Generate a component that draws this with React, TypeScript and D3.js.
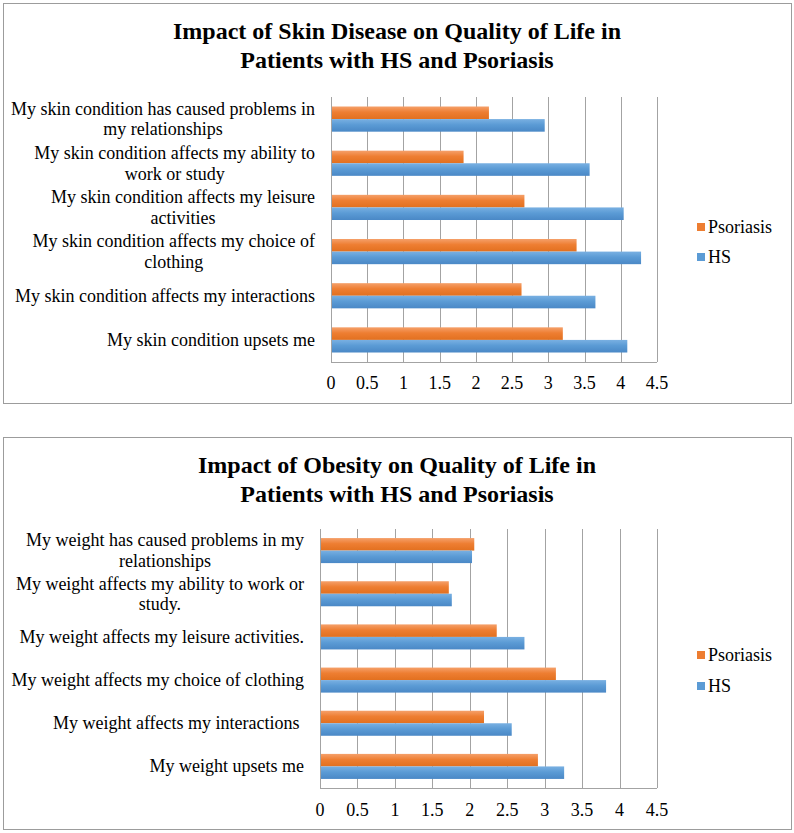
import React, { useEffect, useRef } from "react";
import * as d3 from "d3";

// data (top row in the picture first)
const skinTitle = ["Impact of Skin Disease on Quality of Life in", "Patients with HS and Psoriasis"];
const skinCategories = [
  "My skin condition has caused problems in\nmy relationships",
  "My skin condition affects my ability to\nwork or study",
  "My skin condition affects my leisure\nactivities",
  "My skin condition affects my choice of\nclothing",
  "My skin condition affects my interactions",
  "My skin condition upsets me",
];
const skinPsoriasis = [2.18, 1.83, 2.67, 3.39, 2.63, 3.2];
const skinHS = [2.95, 3.57, 4.04, 4.28, 3.65, 4.09];

const weightTitle = ["Impact of Obesity on Quality of Life in", "Patients with HS and Psoriasis"];
const weightCategories = [
  "My weight has caused problems in my\nrelationships",
  "My weight affects my ability to work or\nstudy.",
  "My weight affects my leisure activities.",
  "My weight affects my choice of clothing",
  "My weight affects my interactions ",
  "My weight upsets me",
];
const weightPsoriasis = [2.06, 1.72, 2.36, 3.15, 2.19, 2.91];
const weightHS = [2.03, 1.76, 2.73, 3.82, 2.56, 3.26];

const seriesNames = ["Psoriasis", "HS"];
const xTicks = [0, 0.5, 1, 1.5, 2, 2.5, 3, 3.5, 4, 4.5];

const FONT = "'Liberation Serif', 'Times New Roman', serif";
const colors = { Psoriasis: "#ED7D31", HS: "#5B9BD5" };

const charts = [
  {
    id: "skin",
    title: skinTitle,
    categories: skinCategories,
    values: { Psoriasis: skinPsoriasis, HS: skinHS },
    box: [3, 3, 791, 403],
    plot: { x0: 331, x1: 657, y0: 97, y1: 362 },
    labelRight: 315,
    tickY: 383,
    legendY: [227, 257],
    titleY: [39, 68],
    gap: 0.43,
  },
  {
    id: "weight",
    title: weightTitle,
    categories: weightCategories,
    values: { Psoriasis: weightPsoriasis, HS: weightHS },
    box: [3, 437, 791, 829],
    plot: { x0: 320, x1: 657, y0: 529, y1: 788 },
    labelRight: 304,
    tickY: 810,
    legendY: [655, 686],
    titleY: [473, 502],
    gap: 0.42,
  },
];

function drawChart(root, c) {
  const g = root.append("g");
  const [bx0, by0, bx1, by1] = c.box;

  g.append("rect")
    .attr("x", bx0 + 0.5)
    .attr("y", by0 + 0.5)
    .attr("width", bx1 - bx0)
    .attr("height", by1 - by0)
    .attr("fill", "#fff")
    .attr("stroke", "#9c9c9c");

  // title
  c.title.forEach((t, i) => {
    g.append("text")
      .attr("x", (bx0 + bx1) / 2)
      .attr("y", c.titleY[i])
      .attr("text-anchor", "middle")
      .style("font-family", FONT)
      .style("font-weight", "bold")
      .style("font-size", "24px")
      .text(t);
  });

  const x = d3.scaleLinear().domain([0, 4.5]).range([c.plot.x0, c.plot.x1]);
  const y = d3
    .scaleBand()
    .domain(c.categories)
    .range([c.plot.y0, c.plot.y1])
    .paddingInner(c.gap)
    .paddingOuter(c.gap / 2);
  const ySub = d3.scaleBand().domain(seriesNames).range([0, y.bandwidth()]);

  // gridlines
  g.selectAll(".grid")
    .data(xTicks)
    .enter()
    .append("line")
    .attr("x1", (d) => Math.round(x(d)) + 0.5)
    .attr("x2", (d) => Math.round(x(d)) + 0.5)
    .attr("y1", c.plot.y0)
    .attr("y2", c.plot.y1)
    .attr("stroke", "#a3a3a3")
    .attr("stroke-width", 1);

  g.append("line")
    .attr("x1", c.plot.x0)
    .attr("x2", c.plot.x1)
    .attr("y1", Math.round(c.plot.y1) + 0.5)
    .attr("y2", Math.round(c.plot.y1) + 0.5)
    .attr("stroke", "#a3a3a3");

  // gradients
  const defs = g.append("defs");
  const shades = {
    Psoriasis: ["#F5A06A", "#EE7E32", "#E2701F"],
    HS: ["#79B0E2", "#5B9BD5", "#4A88C6"],
  };
  seriesNames.forEach((s) => {
    const lg = defs
      .append("linearGradient")
      .attr("id", `${c.id}-${s}`)
      .attr("x1", 0)
      .attr("x2", 0)
      .attr("y1", 0)
      .attr("y2", 1);
    lg.append("stop").attr("offset", "0%").attr("stop-color", shades[s][0]);
    lg.append("stop").attr("offset", "45%").attr("stop-color", shades[s][1]);
    lg.append("stop").attr("offset", "100%").attr("stop-color", shades[s][2]);
  });

  // bars
  seriesNames.forEach((s) => {
    g.selectAll(`.bar-${s}`)
      .data(c.categories)
      .enter()
      .append("rect")
      .attr("x", x(0) + 1)
      .attr("y", (d) => y(d) + ySub(s))
      .attr("width", (d, i) => x(c.values[s][i]) - x(0) - 1)
      .attr("height", ySub.bandwidth())
      .attr("fill", `url(#${c.id}-${s})`);
  });

  // category labels, wrapped lines centred inside a right-aligned block
  const lh = 20.5;
  c.categories.forEach((cat) => {
    const lines = cat.split("\n");
    const cy = y(cat) + y.bandwidth() / 2;
    const nodes = lines.map((ln, i) =>
      g
        .append("text")
        .attr("y", cy + (i - (lines.length - 1) / 2) * lh)
        .attr("dominant-baseline", "central")
        .attr("text-anchor", "middle")
        .style("font-family", FONT)
        .style("font-size", "18px")
        .style("white-space", "pre")
        .text(ln)
    );
    const w = d3.max(nodes, (n) => n.node().getComputedTextLength());
    nodes.forEach((n) => n.attr("x", c.labelRight - w / 2));
  });

  // x tick labels
  g.selectAll(".tick")
    .data(xTicks)
    .enter()
    .append("text")
    .attr("x", (d) => x(d))
    .attr("y", c.tickY)
    .attr("text-anchor", "middle")
    .attr("dominant-baseline", "central")
    .style("font-family", FONT)
    .style("font-size", "18px")
    .text((d) => String(d));

  // legend
  seriesNames.forEach((s, i) => {
    g.append("rect")
      .attr("x", 697)
      .attr("y", c.legendY[i] - 4)
      .attr("width", 8)
      .attr("height", 8)
      .attr("fill", colors[s]);
    g.append("text")
      .attr("x", 708)
      .attr("y", c.legendY[i])
      .attr("dominant-baseline", "central")
      .style("font-family", FONT)
      .style("font-size", "18px")
      .text(s);
  });
}

export default function App() {
  const ref = useRef(null);

  useEffect(() => {
    const svg = d3.select(ref.current);
    svg.selectAll("*").remove();
    charts.forEach((c) => drawChart(svg, c));
  }, []);

  return (
    <svg
      ref={ref}
      width={794}
      height={833}
      style={{ position: "absolute", left: 0, top: 0, background: "#fff" }}
    />
  );
}
